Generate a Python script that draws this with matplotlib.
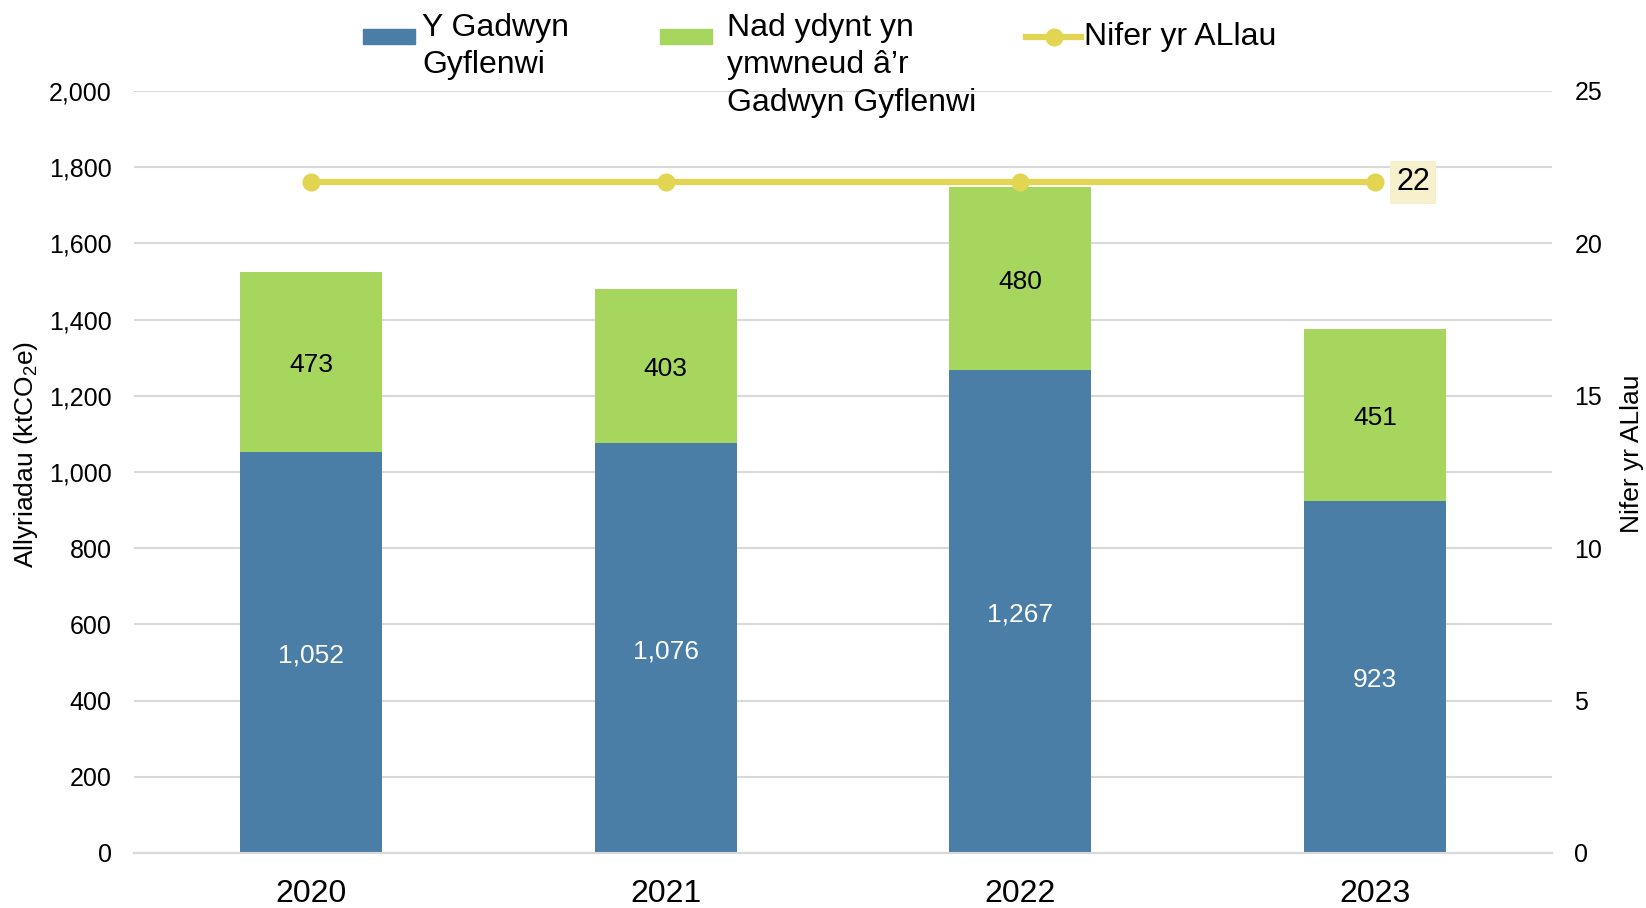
import numpy as np
import matplotlib.pyplot as plt
from matplotlib.patches import Rectangle
from matplotlib.lines import Line2D

plt.rcParams['font.family'] = ['Liberation Sans', 'DejaVu Sans']
plt.rcParams['mathtext.default'] = 'regular'

# data
years = ['2020', '2021', '2022', '2023']
supply_chain = [1052, 1076, 1267, 923]
not_supply_chain = [473, 403, 480, 451]
num_las = [22, 22, 22, 22]
legend_labels = ['Y Gadwyn\nGyflenwi', 'Nad ydynt yn\nymwneud â’r\nGadwyn Gyflenwi',
                 'Nifer yr ALlau']

blue = '#4A7EA7'
green = '#A6D65E'
yellow = '#E2D552'
grid = '#D9D9D9'

W, H = 1646, 908
fig = plt.figure(figsize=(W / 100, H / 100), dpi=100)
ax = fig.add_axes([0.0814, 0.0606, 0.8616, 0.8392])
ax2 = ax.twinx()

x = np.arange(len(years))
w = 0.4
ax.bar(x, supply_chain, w, color=blue, zorder=3)
ax.bar(x, not_supply_chain, w, bottom=supply_chain, color=green, zorder=3)

for i in range(len(years)):
    ax.text(x[i], supply_chain[i] / 2 - 8, '{:,}'.format(supply_chain[i]),
            ha='center', va='center', color='white', fontsize=19, zorder=4)
    ax.text(x[i], supply_chain[i] + not_supply_chain[i] / 2 - 8,
            '{:,}'.format(not_supply_chain[i]),
            ha='center', va='center', color='black', fontsize=19, zorder=4)

ax2.plot(x, num_las, color=yellow, lw=4.5, marker='o', markersize=12, zorder=5)
ax2.text(x[-1] + 0.06, num_las[-1], str(num_las[-1]), ha='left', va='center',
         fontsize=22, bbox=dict(boxstyle='square,pad=0.2', fc='#F6F1CC', ec='none'))

ax.set_xlim(-0.5, 3.5)
ax.set_ylim(0, 2000)
ax.set_yticks(np.arange(0, 2001, 200))
ax.yaxis.set_major_formatter(plt.FuncFormatter(lambda v, p: '{:,}'.format(int(v))))
ax2.set_ylim(0, 25)
ax2.set_yticks(np.arange(0, 26, 5))
ax.set_xticks(x)
ax.set_xticklabels(years, fontsize=23)
ax.tick_params(axis='y', labelsize=18, length=0, pad=16)
ax2.tick_params(axis='y', labelsize=18, length=0, pad=16)
ax.tick_params(axis='x', length=0, pad=19)
ax.grid(axis='y', color=grid, lw=1.5, zorder=0)
ax.set_axisbelow(True)
for a in (ax, ax2):
    for s in ['top', 'left', 'right']:
        a.spines[s].set_visible(False)
    a.spines['bottom'].set_color(grid)
    a.spines['bottom'].set_linewidth(1.5)

ax.set_ylabel('Allyriadau (ktCO$_2$e)', fontsize=19)
ax2.set_ylabel('Nifer yr ALlau', fontsize=19)
ax.yaxis.set_label_coords(40 / W, 0.5, transform=fig.transFigure)
ax2.yaxis.set_label_coords(1620 / W, 0.5, transform=fig.transFigure)

# legend drawn by hand so the keys sit on the first text line
def fx(px):
    return px / W

def fy(py):
    return 1 - py / H

fig.add_artist(Rectangle((fx(363), fy(44)), fx(52), 15 / H, color=blue,
                         transform=fig.transFigure))
fig.add_artist(Rectangle((fx(660), fy(44)), fx(52), 15 / H, color=green,
                         transform=fig.transFigure))
fig.add_artist(Line2D([fx(1026), fx(1081)], [fy(36.5), fy(36.5)], color=yellow,
                      lw=4.5, transform=fig.transFigure))
fig.add_artist(Line2D([fx(1053.5)], [fy(36.5)], color=yellow, marker='o',
                      markersize=12, transform=fig.transFigure))
fig.text(fx(422), fy(13), legend_labels[0], ha='left', va='top', fontsize=23,
         linespacing=1.32)
fig.text(fx(727), fy(13), legend_labels[1], ha='left', va='top', fontsize=23,
         linespacing=1.32)
fig.text(fx(1084), fy(36.5), legend_labels[2], ha='left', va='center', fontsize=23)

plt.savefig('out.png')
